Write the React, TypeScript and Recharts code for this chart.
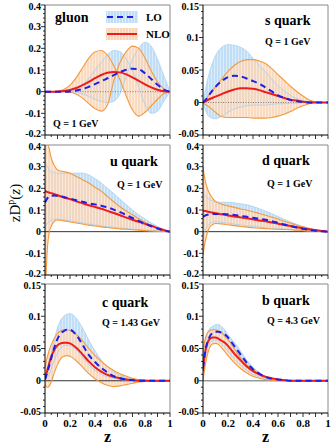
import React from "react";
import { ComposedChart, Area, Line, XAxis, YAxis, ReferenceLine } from "recharts";

const FONT = '"Liberation Serif", "Times New Roman", serif';

// z grids
const gluonZ = [0, 0.05, 0.1, 0.15, 0.2, 0.25, 0.3, 0.35, 0.4, 0.45, 0.5, 0.55, 0.6, 0.65, 0.7, 0.75, 0.8, 0.85, 0.9, 0.95, 1];
const baseZ = [0, 0.02, 0.05, 0.1, 0.15, 0.2, 0.25, 0.3, 0.35, 0.4, 0.45, 0.5, 0.55, 0.6, 0.65, 0.7, 0.75, 0.8, 0.85, 0.9, 0.95, 1];
const fineZ = [0, 0.01, 0.02, 0.035, 0.05, 0.075, 0.1, 0.15, 0.2, 0.25, 0.3, 0.35, 0.4, 0.45, 0.5, 0.55, 0.6, 0.65, 0.7, 0.75, 0.8, 0.85, 0.9, 0.95, 1];
const peakZ = [0, 0.01, 0.02, 0.035, 0.05, 0.075, 0.1, 0.125, 0.15, 0.175, 0.2, 0.25, 0.3, 0.35, 0.4, 0.45, 0.5, 0.55, 0.6, 0.65, 0.7, 0.75, 0.8, 0.85, 0.9, 0.95, 1];

// gluon
const gluonLO = [0, 0, 0, 0, 0.001, 0.005, 0.012, 0.022, 0.035, 0.048, 0.062, 0.076, 0.09, 0.101, 0.106, 0.103, 0.085, 0.058, 0.032, 0.01, 0];
const gluonNLO = [0, 0, 0.001, 0.003, 0.008, 0.017, 0.03, 0.045, 0.062, 0.077, 0.087, 0.091, 0.089, 0.08, 0.066, 0.05, 0.034, 0.02, 0.009, 0.002, 0];
const gluonLOa = [0, 0, 0, 0, 0, 0.01, 0.03, 0.06, 0.1, 0.135, 0.17, 0.19, 0.185, 0.15, 0.095, 0.02, -0.06, -0.1, -0.09, -0.045, 0];
const gluonLOb = [0, 0, 0, 0, 0, -0.003, -0.01, -0.022, -0.035, -0.045, -0.05, -0.045, -0.01, 0.07, 0.15, 0.2, 0.228, 0.21, 0.15, 0.075, 0];
const gluonNLOa = [0, 0, 0.002, 0.01, 0.03, 0.065, 0.11, 0.155, 0.183, 0.19, 0.168, 0.12, 0.055, -0.02, -0.085, -0.113, -0.095, -0.065, -0.035, -0.01, 0];
const gluonNLOb = [0, 0, 0, 0, -0.003, -0.012, -0.03, -0.055, -0.078, -0.09, -0.06, 0.05, 0.135, 0.185, 0.21, 0.2, 0.155, 0.095, 0.045, 0.013, 0];

// s quark
const sLO = [0, 0.004, 0.012, 0.024, 0.033, 0.039, 0.041, 0.04, 0.037, 0.033, 0.029, 0.023, 0.017, 0.011, 0.007, 0.004, 0.002, 0.001, 0, 0, 0, 0];
const sNLO = [0, 0.002, 0.005, 0.009, 0.013, 0.017, 0.02, 0.022, 0.022, 0.021, 0.019, 0.016, 0.013, 0.01, 0.007, 0.004, 0.003, 0.001, 0, 0, 0, 0];
const sLOhi = [0, 0.02, 0.045, 0.072, 0.085, 0.089, 0.088, 0.085, 0.079, 0.068, 0.057, 0.047, 0.036, 0.026, 0.018, 0.011, 0.006, 0.003, 0.001, 0, 0, 0];
const sLOlo = [0, -0.012, -0.022, -0.025, -0.021, -0.015, -0.01, -0.007, -0.005, -0.004, -0.004, -0.004, -0.003, -0.002, -0.002, -0.001, -0.001, 0, 0, 0, 0, 0];
const sNLOhi = [0, 0.004, 0.012, 0.024, 0.036, 0.048, 0.057, 0.063, 0.066, 0.066, 0.064, 0.06, 0.052, 0.043, 0.034, 0.025, 0.017, 0.01, 0.004, 0.001, 0, 0];
const sNLOlo = [0, -0.003, -0.007, -0.015, -0.022, -0.023, -0.023, -0.023, -0.023, -0.024, -0.024, -0.024, -0.023, -0.021, -0.018, -0.014, -0.009, -0.005, -0.002, 0, 0, 0];

// u quark
const uLO = [0.135, 0.145, 0.155, 0.163, 0.166, 0.167, 0.165, 0.16, 0.153, 0.145, 0.138, 0.131, 0.126, 0.12, 0.112, 0.102, 0.09, 0.077, 0.063, 0.05, 0.037, 0.025, 0.014, 0.005, 0];
const uNLO = [0.188, 0.185, 0.183, 0.18, 0.178, 0.173, 0.168, 0.158, 0.15, 0.14, 0.131, 0.122, 0.114, 0.106, 0.096, 0.086, 0.076, 0.065, 0.055, 0.045, 0.036, 0.027, 0.017, 0.008, 0];
const uLOhi = [0.33, 0.31, 0.3, 0.285, 0.278, 0.272, 0.27, 0.27, 0.27, 0.27, 0.27, 0.262, 0.245, 0.225, 0.2, 0.176, 0.15, 0.125, 0.1, 0.078, 0.058, 0.04, 0.024, 0.01, 0];
const uLOlo = [0.02, 0.03, 0.038, 0.046, 0.052, 0.057, 0.058, 0.055, 0.05, 0.045, 0.04, 0.035, 0.031, 0.027, 0.023, 0.02, 0.017, 0.014, 0.011, 0.009, 0.006, 0.004, 0.002, 0.001, 0];
const uNLOhi = [0.55, 0.48, 0.42, 0.38, 0.34, 0.305, 0.285, 0.277, 0.27, 0.255, 0.24, 0.225, 0.205, 0.187, 0.162, 0.138, 0.115, 0.095, 0.078, 0.06, 0.043, 0.028, 0.015, 0.006, 0];
const uNLOlo = [-0.35, -0.18, -0.07, 0.0, 0.025, 0.048, 0.054, 0.05, 0.045, 0.04, 0.035, 0.03, 0.026, 0.022, 0.019, 0.016, 0.013, 0.011, 0.009, 0.007, 0.005, 0.003, 0.002, 0.001, 0];

// d quark
const dLO = [0.069, 0.072, 0.075, 0.078, 0.08, 0.082, 0.082, 0.082, 0.08, 0.077, 0.073, 0.069, 0.064, 0.06, 0.055, 0.048, 0.041, 0.033, 0.026, 0.019, 0.013, 0.008, 0.004, 0.002, 0];
const dNLO = [0.097, 0.096, 0.095, 0.093, 0.091, 0.088, 0.085, 0.08, 0.075, 0.07, 0.066, 0.062, 0.057, 0.052, 0.048, 0.042, 0.037, 0.031, 0.026, 0.02, 0.015, 0.011, 0.007, 0.003, 0];
const dLOhi = [0.178, 0.172, 0.166, 0.158, 0.15, 0.143, 0.138, 0.136, 0.135, 0.133, 0.129, 0.124, 0.116, 0.106, 0.095, 0.083, 0.07, 0.057, 0.045, 0.034, 0.024, 0.016, 0.009, 0.004, 0];
const dLOlo = [-0.023, -0.005, 0.01, 0.025, 0.035, 0.043, 0.046, 0.043, 0.039, 0.035, 0.031, 0.027, 0.024, 0.021, 0.018, 0.015, 0.013, 0.011, 0.009, 0.007, 0.005, 0.003, 0.002, 0.001, 0];
const dNLOhi = [0.3, 0.26, 0.23, 0.2, 0.178, 0.155, 0.14, 0.127, 0.119, 0.112, 0.105, 0.099, 0.092, 0.084, 0.076, 0.067, 0.058, 0.048, 0.039, 0.03, 0.022, 0.015, 0.009, 0.004, 0];
const dNLOlo = [-0.108, -0.07, -0.04, -0.005, 0.018, 0.032, 0.038, 0.036, 0.032, 0.028, 0.024, 0.021, 0.018, 0.016, 0.014, 0.012, 0.011, 0.01, 0.009, 0.007, 0.006, 0.004, 0.003, 0.001, 0];

// c quark
const cLO = [0.002, 0.008, 0.014, 0.024, 0.035, 0.052, 0.065, 0.073, 0.077, 0.079, 0.079, 0.071, 0.056, 0.04, 0.029, 0.02, 0.013, 0.007, 0.004, 0.002, 0.001, 0, 0, 0, 0, 0, 0];
const cNLO = [0.003, 0.01, 0.017, 0.028, 0.037, 0.048, 0.055, 0.058, 0.059, 0.059, 0.058, 0.051, 0.041, 0.03, 0.021, 0.014, 0.009, 0.006, 0.004, 0.002, 0.001, 0, 0, 0, 0, 0, 0];
const cLOhi = [0, 0.008, 0.016, 0.03, 0.042, 0.064, 0.082, 0.094, 0.1, 0.103, 0.104, 0.097, 0.082, 0.063, 0.046, 0.032, 0.022, 0.014, 0.008, 0.005, 0.003, 0.001, 0, 0, 0, 0, 0];
const cLOlo = [0, 0.002, 0.005, 0.01, 0.018, 0.032, 0.043, 0.05, 0.054, 0.055, 0.054, 0.048, 0.036, 0.025, 0.016, 0.01, 0.006, 0.004, 0.002, 0.001, 0, 0, 0, 0, 0, 0, 0];
const cNLOhi = [0.021, 0.03, 0.038, 0.048, 0.056, 0.066, 0.073, 0.077, 0.079, 0.079, 0.078, 0.072, 0.062, 0.05, 0.039, 0.03, 0.022, 0.016, 0.011, 0.007, 0.004, 0.002, 0.001, 0, 0, 0, 0];
const cNLOlo = [-0.006, -0.009, -0.01, -0.008, -0.002, 0.013, 0.025, 0.034, 0.038, 0.039, 0.038, 0.031, 0.021, 0.011, 0.003, -0.003, -0.007, -0.009, -0.008, -0.006, -0.004, -0.002, -0.001, 0, 0, 0, 0];

// b quark
const bLO = [0.02, 0.035, 0.048, 0.06, 0.067, 0.074, 0.076, 0.076, 0.074, 0.072, 0.067, 0.054, 0.041, 0.028, 0.018, 0.011, 0.006, 0.003, 0.002, 0.001, 0, 0, 0, 0, 0, 0, 0];
const bNLO = [0.015, 0.035, 0.047, 0.058, 0.064, 0.067, 0.067, 0.065, 0.062, 0.059, 0.054, 0.042, 0.032, 0.022, 0.015, 0.01, 0.006, 0.004, 0.002, 0.001, 0, 0, 0, 0, 0, 0, 0];
const bLOhi = [0.03, 0.05, 0.062, 0.074, 0.08, 0.084, 0.087, 0.087, 0.084, 0.079, 0.071, 0.06, 0.046, 0.032, 0.021, 0.013, 0.007, 0.004, 0.002, 0.001, 0, 0, 0, 0, 0, 0, 0];
const bLOlo = [0.01, 0.028, 0.038, 0.05, 0.057, 0.062, 0.063, 0.061, 0.057, 0.052, 0.046, 0.034, 0.024, 0.016, 0.01, 0.006, 0.003, 0.002, 0.001, 0, 0, 0, 0, 0, 0, 0, 0];
const bNLOhi = [0.04, 0.058, 0.067, 0.074, 0.077, 0.079, 0.079, 0.077, 0.075, 0.069, 0.064, 0.05, 0.036, 0.025, 0.017, 0.011, 0.007, 0.004, 0.002, 0.001, 0, 0, 0, 0, 0, 0, 0];
const bNLOlo = [0, 0.014, 0.026, 0.04, 0.05, 0.057, 0.058, 0.056, 0.051, 0.045, 0.039, 0.028, 0.019, 0.012, 0.007, 0.004, 0.002, 0.001, 0, 0, 0, 0, 0, 0, 0, 0, 0];

const xTicks = Array.from({ length: 21 }, (_, i) => i / 20);
const bigTicks = Array.from({ length: 31 }, (_, i) => (i - 10) / 50);
const smallTicks = Array.from({ length: 21 }, (_, i) => (i - 5) / 100);

const BIG: [number, number] = [-0.2, 0.4];
const SMALL: [number, number] = [-0.05, 0.15];

const fmt = (v: number) => String(Number(v.toFixed(3)));

const panels = [
  { key: "g", z: gluonZ, lo: gluonLO, nlo: gluonNLO, loA: gluonLOa, loB: gluonLOb, nloA: gluonNLOa, nloB: gluonNLOb, domain: BIG, yTicks: bigTicks, yMajor: 0.1, left: 0, top: 0, mt: 5, plotH: 130, xh: 6, xLabels: false, zero: "dot" },
  { key: "s", z: baseZ, lo: sLO, nlo: sNLO, loA: sLOlo, loB: sLOhi, nloA: sNLOlo, nloB: sNLOhi, domain: SMALL, yTicks: smallTicks, yMajor: 0.05, left: 158, top: 0, mt: 5, plotH: 130, xh: 6, xLabels: false, zero: "dot" },
  { key: "u", z: fineZ, lo: uLO, nlo: uNLO, loA: uLOlo, loB: uLOhi, nloA: uNLOlo, nloB: uNLOhi, domain: BIG, yTicks: bigTicks, yMajor: 0.1, left: 0, top: 138, mt: 7, plotH: 130, xh: 6, xLabels: false, zero: "solid" },
  { key: "d", z: fineZ, lo: dLO, nlo: dNLO, loA: dLOlo, loB: dLOhi, nloA: dNLOlo, nloB: dNLOhi, domain: BIG, yTicks: bigTicks, yMajor: 0.1, left: 158, top: 138, mt: 7, plotH: 130, xh: 6, xLabels: false, zero: "solid" },
  { key: "c", z: peakZ, lo: cLO, nlo: cNLO, loA: cLOlo, loB: cLOhi, nloA: cNLOlo, nloB: cNLOhi, domain: SMALL, yTicks: smallTicks, yMajor: 0.05, left: 0, top: 277, mt: 7, plotH: 129, xh: 33, xLabels: true, zero: "solid" },
  { key: "b", z: peakZ, lo: bLO, nlo: bNLO, loA: bLOlo, loB: bLOhi, nloA: bNLOlo, nloB: bNLOhi, domain: SMALL, yTicks: smallTicks, yMajor: 0.05, left: 158, top: 277, mt: 7, plotH: 129, xh: 33, xLabels: true, zero: "gray" },
];

const Hatch = ({ id, bg, line }: { id: string; bg: string; line: string }) => (
  <pattern id={id} width="3" height="4" patternUnits="userSpaceOnUse">
    <rect width="3" height="4" fill={bg} />
    <line x1="1" y1="0" x2="1" y2="4" stroke={line} strokeWidth="1" />
  </pattern>
);

function XTick(props: any) {
  const { x, y, payload, showLabel } = props;
  const k = Math.round(payload.value * 20);
  const major = k % 2 === 0;
  return (
    <g>
      <line x1={x} y1={y} x2={x} y2={y + (major ? 4 : 2)} stroke="#000" strokeWidth={0.8} />
      {showLabel && k % 4 === 0 && (
        <text x={x} y={y + 14} textAnchor="middle" fontFamily={FONT} fontWeight="bold" fontSize={11} fill="#000">
          {fmt(payload.value)}
        </text>
      )}
    </g>
  );
}

function YTick(props: any) {
  const { x, y, payload, major, domain } = props;
  const v = payload.value;
  const isMajor = Math.abs(v / major - Math.round(v / major)) < 1e-6;
  // nudge the end labels so neighbouring panels' labels do not collide
  let shift = 0;
  if (Math.abs(v - domain[1]) < 1e-6) shift = 1.5;
  if (Math.abs(v - domain[0]) < 1e-6) shift = -1.5;
  return (
    <g>
      <line x1={x - (isMajor ? 4 : 2)} y1={y} x2={x} y2={y} stroke="#000" strokeWidth={0.8} />
      {isMajor && (
        <text x={x - 4} y={y + 3.5 + shift} textAnchor="end" fontFamily={FONT} fontWeight="bold" fontSize={10} fill="#000">
          {fmt(v)}
        </text>
      )}
    </g>
  );
}

function Panel({ p }: { p: any }) {
  const data = p.z.map((z: number, i: number) => ({
    z,
    lo: p.lo[i],
    nlo: p.nlo[i],
    loA: p.loA[i],
    loB: p.loB[i],
    nloA: p.nloA[i],
    nloB: p.nloB[i],
    loBand: [p.loA[i], p.loB[i]],
    nloBand: [p.nloA[i], p.nloB[i]],
  }));
  const zeroStroke = p.zero === "dot" ? "#666" : p.zero === "gray" ? "#999" : "#333";
  return (
    <div style={{ position: "absolute", left: p.left, top: p.top }}>
      <ComposedChart
        width={174}
        height={p.mt + p.plotH + p.xh}
        data={data}
        margin={{ top: p.mt, right: 4, bottom: 0, left: 0 }}
      >
        <defs>
          <Hatch id={`blue-${p.key}`} bg="#dcecfb" line="#a7d0f3" />
          <Hatch id={`orange-${p.key}`} bg="#fde7d3" line="#f6c49c" />
        </defs>
        <XAxis
          dataKey="z"
          type="number"
          domain={[0, 1]}
          ticks={xTicks}
          interval={0}
          allowDataOverflow
          tickLine={false}
          tickSize={0}
          tickMargin={0}
          height={p.xh}
          stroke="#000"
          tick={(t: any) => <XTick {...t} showLabel={p.xLabels} />}
        />
        <YAxis
          type="number"
          domain={p.domain}
          ticks={p.yTicks}
          interval={0}
          allowDataOverflow
          width={45}
          tickLine={false}
          tickSize={0}
          tickMargin={0}
          stroke="#000"
          tick={(t: any) => <YTick {...t} major={p.yMajor} domain={p.domain} />}
        />
        <Area dataKey="loBand" type="monotone" stroke="none" fill={`url(#blue-${p.key})`} fillOpacity={1} isAnimationActive={false} />
        <Area dataKey="nloBand" type="monotone" stroke="none" fill={`url(#orange-${p.key})`} fillOpacity={0.85} isAnimationActive={false} />
        <ReferenceLine
          y={0}
          stroke={zeroStroke}
          strokeWidth={p.zero === "gray" ? 1.5 : p.zero === "dot" ? 0.8 : 1}
          strokeDasharray={p.zero === "dot" ? "1 1.5" : undefined}
        />
        <ReferenceLine y={p.domain[1]} stroke="#888" />
        <ReferenceLine x={1} stroke="#888" />
        <Line dataKey="loA" type="monotone" stroke="#a9cff0" strokeWidth={0.8} dot={false} activeDot={false} isAnimationActive={false} />
        <Line dataKey="loB" type="monotone" stroke="#a9cff0" strokeWidth={0.8} dot={false} activeDot={false} isAnimationActive={false} />
        <Line dataKey="nloA" type="monotone" stroke="#f39a3e" strokeWidth={1.1} dot={false} activeDot={false} isAnimationActive={false} />
        <Line dataKey="nloB" type="monotone" stroke="#f39a3e" strokeWidth={1.1} dot={false} activeDot={false} isAnimationActive={false} />
        <Line dataKey="nlo" type="monotone" stroke="#ee1c1c" strokeWidth={2} dot={false} activeDot={false} isAnimationActive={false} />
        <Line dataKey="lo" type="monotone" stroke="#1f1fe6" strokeWidth={2} strokeDasharray="6 4" dot={false} activeDot={false} isAnimationActive={false} />
      </ComposedChart>
    </div>
  );
}

const titles = [
  { text: "gluon", x: 55, y: 22 },
  { text: "s quark", x: 265, y: 25 },
  { text: "u quark", x: 110, y: 166 },
  { text: "d quark", x: 262, y: 165 },
  { text: "c quark", x: 102, y: 307 },
  { text: "b quark", x: 262, y: 305 },
];

const scales = [
  { text: "Q = 1 GeV", x: 53, y: 127 },
  { text: "Q = 1 GeV", x: 265, y: 45 },
  { text: "Q = 1 GeV", x: 117, y: 188 },
  { text: "Q = 1 GeV", x: 267, y: 187 },
  { text: "Q = 1.43 GeV", x: 102, y: 326 },
  { text: "Q = 4.3 GeV", x: 267, y: 324 },
];

function Overlay() {
  return (
    <svg width={332} height={446} style={{ position: "absolute", left: 0, top: 0, pointerEvents: "none" }}>
      <defs>
        <Hatch id="blue-leg" bg="#dcecfb" line="#a7d0f3" />
        <Hatch id="orange-leg" bg="#fde7d3" line="#f6c49c" />
      </defs>
      {titles.map((t) => (
        <text key={t.text} x={t.x} y={t.y} fontFamily={FONT} fontWeight="bold" fontSize={14} fill="#000">
          {t.text}
        </text>
      ))}
      {scales.map((t, i) => (
        <text key={i} x={t.x} y={t.y} fontFamily={FONT} fontWeight="bold" fontSize={10} fill="#000">
          {t.text}
        </text>
      ))}
      <rect x={106} y={11} width={32} height={12} fill="url(#blue-leg)" />
      <line x1={107} y1={17} x2={137} y2={17} stroke="#1f1fe6" strokeWidth={2} strokeDasharray="6 4" />
      <rect x={106} y={28} width={32} height={12} fill="url(#orange-leg)" />
      <line x1={107} y1={34} x2={137} y2={34} stroke="#ee1c1c" strokeWidth={2} />
      <text x={146} y={21} fontFamily={FONT} fontWeight="bold" fontSize={11}>LO</text>
      <text x={146} y={38} fontFamily={FONT} fontWeight="bold" fontSize={11}>NLO</text>
      <text x={107.5} y={442} textAnchor="middle" fontFamily={FONT} fontWeight="bold" fontSize={16}>z</text>
      <text x={265.5} y={442} textAnchor="middle" fontFamily={FONT} fontWeight="bold" fontSize={16}>z</text>
      <text transform="translate(20,203) rotate(-90)" textAnchor="middle" fontFamily={FONT} fontSize={15}>
        zD
        <tspan dy={-6} fontSize={10}>p</tspan>
        <tspan dy={6}>(</tspan>
        <tspan fontStyle="italic">z</tspan>
        <tspan>)</tspan>
      </text>
    </svg>
  );
}

export default function App() {
  return (
    <div style={{ position: "absolute", left: 0, top: 0, width: 332, height: 446, background: "#fff" }}>
      {panels.map((p) => (
        <Panel key={p.key} p={p} />
      ))}
      <Overlay />
    </div>
  );
}
